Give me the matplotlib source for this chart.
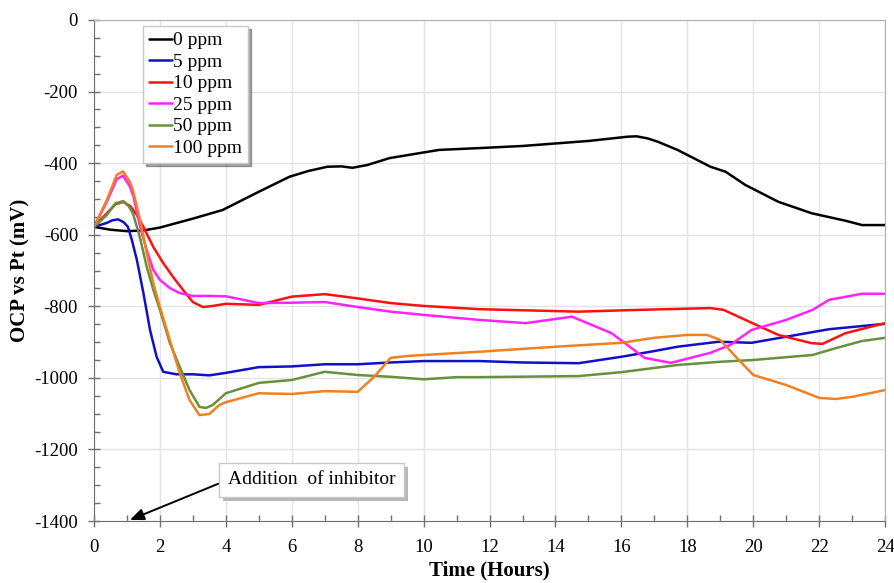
import matplotlib
matplotlib.use("Agg")
import matplotlib.pyplot as plt
import matplotlib.patheffects as pe
from matplotlib.ticker import MultipleLocator

plt.rcParams["font.family"] = ["Liberation Serif", "DejaVu Serif"]
plt.rcParams["axes.unicode_minus"] = False

# OCP readings (mV vs Pt) per inhibitor concentration, time in hours
t_0ppm = [0, 0.5, 1.0, 1.5, 2, 3, 3.9, 5, 5.93, 6.5, 7.08, 7.5, 7.84, 8.3, 8.96,
          10.47, 11.9, 13, 14, 15, 15.8, 16.2, 16.46, 16.8, 17.1, 17.7, 18.7, 19.16,
          19.76, 20.76, 21.77, 22.8, 23.3, 24]
ocp_0ppm = [-578, -586, -590, -588, -580, -555, -531, -480, -438, -422, -410, -409,
            -413, -405, -386, -363, -357, -352, -345, -338, -330, -326, -325, -331,
            -340, -363, -410, -424, -461, -508, -540, -561, -573, -573]

t_5ppm = [0, 0.39, 0.55, 0.73, 0.9, 1.03, 1.15, 1.3, 1.5, 1.7, 1.9, 2.1, 2.5, 3, 3.5,
          4, 5, 6, 7, 8, 9, 10, 11.68, 13, 14.7, 16, 17, 17.7, 18.95, 19.95, 21,
          22.3, 24]
ocp_5ppm = [-578, -567, -560, -557, -565, -578, -615, -670, -763, -866, -941, -983,
            -990, -990, -993, -986, -970, -968, -962, -962, -957, -953, -953, -957,
            -959, -941, -925, -913, -899, -902, -885, -864, -849]

t_10ppm = [0, 0.39, 0.65, 0.88, 1.1, 1.3, 1.5, 1.8, 2.1, 2.4, 2.7, 3.0, 3.3, 3.6, 4,
           5, 6, 7, 8, 9, 10, 11.68, 14.7, 16.5, 18.7, 19.1, 19.76, 20.76, 21.77,
           22.1, 22.8, 24]
ocp_10ppm = [-578, -540, -515, -508, -520, -545, -578, -634, -679, -718, -754, -788,
             -802, -799, -793, -796, -773, -766, -778, -791, -799, -808, -815, -810,
             -805, -810, -838, -880, -903, -905, -875, -847]

t_25ppm = [0, 0.39, 0.69, 0.88, 1.09, 1.2, 1.4, 1.6, 1.8, 2.0, 2.3, 2.6, 3, 3.5, 4,
           5, 6, 7, 8, 9, 10, 11.68, 13.1, 14.5, 15.7, 16.7, 17.5, 18.7, 19.3, 19.95,
           21, 21.8, 22.3, 23.3, 24]
ocp_25ppm = [-578, -508, -445, -435, -465, -494, -578, -643, -698, -726, -749, -763,
             -771, -771, -772, -791, -790, -788, -802, -815, -824, -838, -847, -829,
             -875, -944, -958, -930, -908, -866, -838, -810, -782, -765, -765]

t_50ppm = [0, 0.39, 0.65, 0.89, 1.05, 1.18, 1.39, 1.6, 1.8, 2.0, 2.3, 2.6, 2.9, 3.2,
           3.4, 3.6, 4, 5, 6, 7, 8, 9, 10, 11, 11.68, 14.7, 16, 17.7, 19, 20, 21.8,
           22.5, 23.3, 24]
ocp_50ppm = [-578, -545, -512, -506, -520, -540, -606, -690, -754, -810, -902, -969,
             -1034, -1081, -1084, -1076, -1043, -1014, -1006, -983, -992, -997, -1004,
             -998, -998, -995, -984, -964, -955, -950, -936, -917, -897, -888]

t_100ppm = [0, 0.39, 0.69, 0.88, 1.09, 1.18, 1.4, 1.6, 1.8, 2.0, 2.3, 2.6, 2.9, 3.2,
            3.5, 3.8, 4, 5, 6, 7, 8, 8.5, 9, 9.5, 10, 11.68, 14, 16, 17, 18, 18.6, 19,
            19.5, 20, 21, 22, 22.5, 23, 24]
ocp_100ppm = [-578, -503, -433, -423, -452, -475, -559, -651, -735, -802, -894, -986,
              -1062, -1104, -1101, -1076, -1068, -1043, -1045, -1037, -1039, -997, -944,
              -939, -936, -927, -913, -902, -888, -880, -880, -894, -944, -992, -1020,
              -1056, -1059, -1053, -1034]

labels = ["0 ppm", "5 ppm", "10 ppm", "25 ppm", "50 ppm", "100 ppm"]
colors = ["black", "#1010c8", "#ff1010", "#ff22ff", "#66923a", "#f08020"]


def main() -> None:
    fig = plt.figure(figsize=(8.95, 5.83), dpi=100)
    ax = fig.add_axes([0.105, 0.1063, 0.884, 0.8594])

    series = [
        (t_0ppm, ocp_0ppm), (t_5ppm, ocp_5ppm), (t_10ppm, ocp_10ppm),
        (t_25ppm, ocp_25ppm), (t_50ppm, ocp_50ppm), (t_100ppm, ocp_100ppm),
    ]
    for (t, v), lab, col in zip(series, labels, colors):
        ax.plot(t, v, color=col, lw=1.8, label=lab,
                solid_joinstyle="round", solid_capstyle="round")

    ax.set_xlim(0, 24)
    ax.set_ylim(-1400, 0)
    ax.xaxis.set_major_locator(MultipleLocator(2))
    ax.xaxis.set_minor_locator(MultipleLocator(1))
    ax.yaxis.set_major_locator(MultipleLocator(200))
    ax.yaxis.set_minor_locator(MultipleLocator(50))
    ax.tick_params(which="major", direction="inout", length=8, width=1,
                   color="#707070", labelsize=13.5)
    ax.tick_params(axis="x", which="major", pad=9)
    ax.tick_params(axis="y", which="major", pad=7.5)
    ax.tick_params(which="minor", direction="in", length=4, width=1, color="#707070")
    ax.grid(True, which="major", color="#e4e4e4", lw=1)
    ax.set_axisbelow(True)

    for side in ("left", "bottom"):
        ax.spines[side].set_color("#707070")
    for side in ("top", "right"):
        ax.spines[side].set_color("#b0b0b0")

    ax.set_xlabel("Time (Hours)", fontsize=15, fontweight="bold", labelpad=3)
    ax.set_ylabel("OCP vs Pt (mV)", fontsize=15, fontweight="bold", labelpad=3)

    leg = ax.legend(loc="upper left", bbox_to_anchor=(0.062, 0.988), borderaxespad=0,
                    fontsize=14, handlelength=1.2, handletextpad=0.05,
                    labelspacing=0.2, borderpad=0.3, fancybox=False, shadow=True,
                    framealpha=1)
    leg.get_frame().set_edgecolor("#c8c8c8")
    leg.get_frame().set_linewidth(1)

    note = ax.annotate("Addition  of inhibitor", xy=(1.09, -1397), xytext=(6.6, -1285),
                       fontsize=14, ha="center", va="center",
                       bbox=dict(boxstyle="square,pad=0.45", fc="white", ec="#c8c8c8"),
                       arrowprops=dict(arrowstyle="-|>,head_length=0.6,head_width=0.25",
                                       color="black", lw=1.4, relpos=(0, 0.5),
                                       shrinkA=0, shrinkB=0))
    note.get_bbox_patch().set_path_effects([
        pe.SimplePatchShadow(offset=(3, -3), shadow_rgbFace="#b8b8b8", alpha=1),
        pe.Normal(),
    ])

    fig.savefig("out.png", dpi=100)
    plt.close(fig)


if __name__ == "__main__":
    main()
